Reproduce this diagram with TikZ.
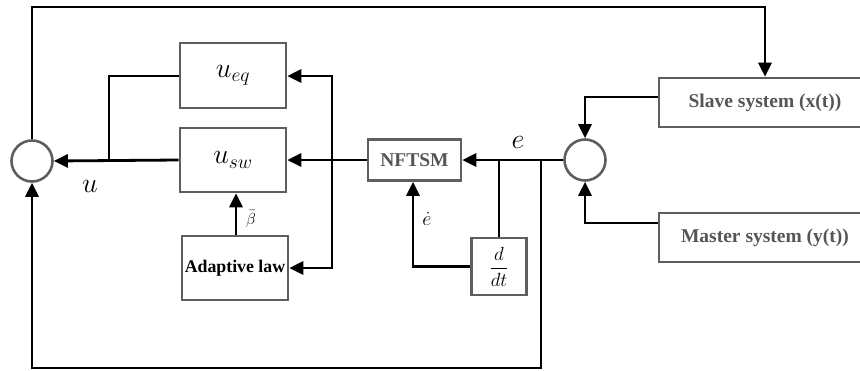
\RequirePackage{fix-cm}
\documentclass[tikz,border=0pt]{standalone}
\usepackage{amsmath}
\usepackage{fontspec}
\setmainfont{Liberation Serif}
\usetikzlibrary{arrows.meta}
\definecolor{boxgray}{HTML}{5E5E5E}
\definecolor{txtgray}{HTML}{555555}
\tikzset{
  blk/.style={draw=boxgray, line width=2.6pt, minimum width=#1, inner sep=0pt},
  sumc/.style={circle, draw=boxgray, line width=2.6pt, minimum size=41pt, inner sep=0pt},
  wire/.style={line width=2.8pt, black},
  arr/.style={wire, -{Triangle[length=14pt,width=13pt]}},
  lbl/.style={font=\fontsize{19.5}{22}\selectfont\bfseries, text=txtgray},
  mlbl/.style={font=\fontsize{28}{32}\selectfont, inner sep=0pt},
}
\begin{document}
\begin{tikzpicture}[x=1pt,y=-1pt]
\useasboundingbox (0,0) rectangle (860,370);
\clip (0,0) rectangle (860,370);
% nodes
\node[sumc] (sumL) at (32,161) {};
\node[sumc] (sumR) at (585,160) {};
\node[blk=106pt, minimum height=65pt, mlbl] (ueq) at (233,75.5) {$u_{eq}$};
\node[blk=106pt, minimum height=64pt, mlbl] (usw) at (233,160) {$u_{sw}$};
\node[blk=106pt, minimum height=64pt, font=\fontsize{17.8}{20}\selectfont\bfseries] (adapt) at (235,268) {Adaptive law};
\node[blk=93pt, minimum height=41pt, lbl] (nftsm) at (414.5,160) {NFTSM};
\node[blk=55pt, minimum height=57pt, font=\fontsize{19}{22}\selectfont] (ddt) at (499,266.5) {$\dfrac{d}{dt}$};
\node[blk=212pt, minimum height=49pt, lbl] (slave) at (765,102.5) {Slave system (x(t))};
\node[blk=212pt, minimum height=49pt, lbl] (master) at (765,237.5) {Master system (y(t))};
% junction coordinates
\coordinate (j1) at (499,160);
\coordinate (j2) at (541,160);
\coordinate (j3) at (332,160);
\coordinate (j4) at (109,160);
% error path
\draw[arr] (sumR.west) -- (nftsm.east);
\draw[wire] (j1) -- (ddt.north);
\draw[arr] (ddt.west) -| (nftsm.south -| 413,0);
\draw[arr] (nftsm.west) -- (usw.east);
\draw[arr] (j3) |- (ueq.east |- 0,76);
\draw[arr] (j3) |- (adapt.east);
\draw[arr] (usw.west) -- (sumL.east);
\draw[wire] (ueq.west |- 0,76) -| (j4);
\draw[arr] (adapt.north -| 236,0) -- (usw.south -| 236,0);
% feedback loops
\draw[arr] (sumL.north) |- (765,7) -- (slave.north);
\draw[arr] (j2) |- (32,368) -- (sumL.south);
\draw[arr] (slave.west |- 0,97) -| (sumR.north);
\draw[arr] (master.west |- 0,223) -| (sumR.south);
% labels
\node[mlbl] (lu) at (90,186) {$u$};
\node[mlbl] (le) at (518,142) {$e$};
\node[font=\fontsize{20}{22}\selectfont, inner sep=0pt] (led) at (427,219) {$\dot e$};
\node[font=\fontsize{16}{18}\selectfont, inner sep=0pt] (lb) at (251,219) {$\bar\beta$};
\end{tikzpicture}
\end{document}
